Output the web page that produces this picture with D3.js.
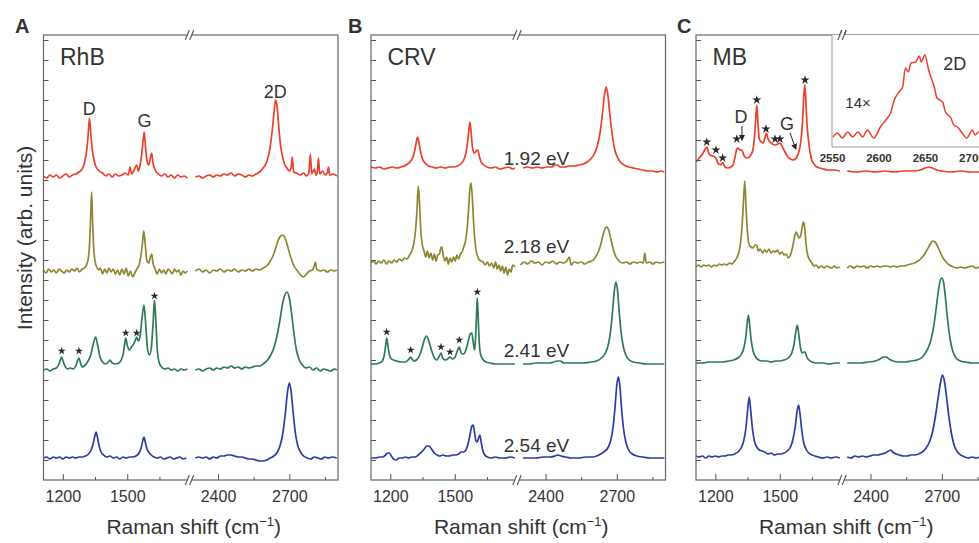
<!DOCTYPE html>
<html>
<head>
<meta charset="utf-8">
<script src="https://cdn.jsdelivr.net/npm/d3@7"></script>
<style>
  body { margin: 0; background: #fff; }
  text { font-family: "Liberation Sans", Arial, sans-serif; fill: #333; }
</style>
</head>
<body>
<script>
// ---- data (Raman shift in cm-1, intensity in arb. units above each baseline) ----
var panelNames = ["RhB", "CRV", "MB"];
var panelLetters = ["A", "B", "C"];
var energies = ["1.92 eV", "2.18 eV", "2.41 eV", "2.54 eV"];
var majorLow = [1200, 1500], minorLow = [1350, 1650];
var majorHigh = [2400, 2700], minorHigh = [2550, 2850];
var insetTicks = [2550, 2600, 2650, 2700];

var offsetsRhB = [30.3, 20.9, 11.0, 2.2];
var offsetsCRV = [31.2, 21.7, 11.6, 2.2];
var offsetsMB = [30.8, 21.3, 11.7, 2.3];

var rhbRed = [[1110,0.1],[1125,-0.1],[1140,0.2],[1155,0],[1170,0.2],[1185,-0.1],[1200,0.1],[1215,0.3],[1230,0],[1245,0.2],[1260,0.3],[1275,0.5],[1290,0.8],[1302,1.5],[1312,2.8],[1318,4.2],[1324,5.9],[1330,4.4],[1337,2.8],[1345,1.7],[1355,1.0],[1370,0.6],[1385,0.4],[1400,0.1],[1415,0.3],[1430,0],[1445,0.3],[1460,0.1],[1475,0.2],[1490,0.4],[1505,0.2],[1513,1.0],[1520,0.3],[1530,0.6],[1544,1.2],[1552,0.6],[1560,1.2],[1567,2.2],[1573,3.4],[1579,4.5],[1585,3.0],[1592,1.6],[1600,1.2],[1608,1.9],[1614,2.4],[1620,1.4],[1630,0.7],[1645,0.3],[1660,0.1],[1675,0.3],[1690,0],[1705,0.2],[1720,-0.1],[1735,0.2],[1750,0],[1765,0.1],[1780,-0.1],
  [2305,0],[2320,0.1],[2335,-0.1],[2350,0.1],[2365,0.2],[2380,0],[2395,0.2],[2410,0.1],[2425,0.3],[2440,0.2],[2455,0.4],[2470,0.1],[2485,0.3],[2500,0.2],[2515,0],[2530,0.2],[2545,0.1],[2560,0.3],[2575,0.5],[2590,0.9],[2605,1.5],[2618,2.8],[2628,4.6],[2636,6.5],[2642,7.7],[2648,7.2],[2655,5.2],[2663,3.2],[2672,2.0],[2680,1.3],[2690,0.9],[2700,0.6],[2708,1.0],[2713,2.0],[2718,0.5],[2730,0.4],[2745,0.2],[2760,0.4],[2772,0.1],[2782,0.4],[2789,2.3],[2794,0.3],[2805,0.8],[2812,0.2],[2818,0.5],[2823,1.9],[2828,0.3],[2840,0.6],[2850,0.2],[2860,0.4],[2865,1.0],[2870,0.2],[2885,0.3],[2900,0.1]];
var rhbOlive = [[1110,0.1],[1122,-0.2],[1134,0.2],[1146,-0.1],[1158,0.1],[1170,-0.2],[1182,0.2],[1194,0],[1206,-0.2],[1218,0.1],[1230,-0.1],[1242,0.2],[1254,0],[1266,0.3],[1278,-0.1],[1290,0.2],[1300,0.3],[1310,0.6],[1318,1.2],[1324,2.5],[1329,5.0],[1334,7.9],[1339,4.8],[1344,2.2],[1350,1.0],[1358,0.4],[1366,0.1],[1375,0.3],[1385,-0.3],[1395,0.2],[1405,-0.2],[1415,0.3],[1425,-0.1],[1435,0.2],[1445,-0.3],[1455,0.1],[1465,-0.4],[1475,0.2],[1485,-0.3],[1495,0.3],[1505,-0.5],[1515,0],[1525,-0.6],[1535,-0.2],[1545,0.2],[1555,0.6],[1563,1.4],[1570,2.6],[1577,4.0],[1584,2.6],[1592,1.0],[1600,0.8],[1608,1.4],[1614,1.7],[1620,0.8],[1630,0.2],[1640,-0.3],[1650,0.2],[1660,-0.2],[1670,0.1],[1680,-0.3],[1690,0.2],[1700,0],[1710,-0.3],[1720,0.2],[1730,-0.1],[1740,0.1],[1750,-0.4],[1760,0],[1770,-0.2],[1780,0],
  [2305,0],[2320,0.2],[2335,-0.1],[2350,0.1],[2365,-0.2],[2380,0.1],[2395,0],[2410,0.2],[2425,-0.1],[2440,0.1],[2455,0],[2470,0.2],[2485,-0.1],[2500,0.1],[2515,0],[2530,0.2],[2545,0],[2560,0.2],[2575,0.1],[2590,0.3],[2605,0.5],[2620,1.0],[2635,1.7],[2648,2.7],[2660,3.4],[2672,3.6],[2684,3.2],[2695,2.3],[2707,1.3],[2720,0.5],[2735,0],[2748,-0.4],[2760,-0.6],[2772,-0.3],[2785,0],[2797,0.1],[2805,0.5],[2810,0.9],[2815,0.2],[2830,0],[2845,0.1],[2860,-0.1],[2875,0.1],[2890,0],[2900,0.1]];
var rhbGreen = [[1110,0],[1125,0.1],[1140,-0.1],[1155,0.1],[1170,0.2],[1182,0.6],[1190,1.1],[1195,1.3],[1201,0.9],[1210,0.4],[1222,0.1],[1235,0.2],[1248,0.1],[1260,0.4],[1268,0.9],[1275,1.2],[1281,0.8],[1290,0.3],[1300,0.4],[1315,0.8],[1330,1.5],[1342,2.6],[1353,3.3],[1362,2.5],[1372,1.4],[1385,0.8],[1400,0.6],[1412,0.8],[1420,1.0],[1430,0.7],[1445,0.6],[1460,0.7],[1472,1.0],[1482,1.7],[1488,2.6],[1493,3.2],[1500,2.5],[1510,2.0],[1520,2.3],[1530,2.6],[1538,3.0],[1544,3.3],[1552,2.9],[1560,3.4],[1568,5.0],[1578,6.5],[1586,4.6],[1594,2.2],[1603,1.5],[1612,2.2],[1620,4.5],[1627,7.0],[1633,5.0],[1640,2.0],[1648,0.8],[1660,0.3],[1675,0.1],[1690,0.2],[1705,0],[1720,0.1],[1735,-0.1],[1750,0.1],[1765,0],[1780,0.1],
  [2305,0],[2320,0.1],[2335,-0.1],[2350,0.1],[2365,0.2],[2380,0],[2395,0.2],[2410,0.1],[2425,0.3],[2440,0.2],[2455,0.4],[2470,0.2],[2485,0.3],[2500,0.1],[2515,0.3],[2530,0.2],[2545,0.3],[2560,0.4],[2575,0.4],[2590,0.6],[2605,0.9],[2620,1.4],[2635,2.2],[2648,3.4],[2660,4.9],[2670,6.4],[2680,7.4],[2690,7.8],[2700,7.2],[2710,5.6],[2720,3.6],[2730,2.0],[2742,1.0],[2755,0.5],[2770,0.2],[2785,0.3],[2800,0],[2815,0.2],[2830,-0.1],[2845,0.1],[2860,0],[2875,-0.1],[2890,0.1],[2900,0]];
var rhbBlue = [[1110,0],[1125,0.1],[1140,-0.1],[1155,0.1],[1170,0],[1185,0.1],[1200,-0.1],[1215,0.1],[1230,0],[1245,0.1],[1260,0],[1275,0.1],[1290,0.1],[1305,0.2],[1320,0.4],[1332,0.8],[1342,1.5],[1349,2.2],[1355,2.6],[1361,2.1],[1368,1.3],[1378,0.6],[1390,0.3],[1405,0.1],[1420,0.2],[1435,0],[1450,0.1],[1465,-0.1],[1480,0.1],[1495,0],[1510,0.1],[1525,0.1],[1540,0.2],[1555,0.5],[1566,1.1],[1573,1.8],[1578,2.1],[1584,1.6],[1592,0.9],[1600,0.6],[1612,0.3],[1625,0.1],[1640,0],[1655,0.1],[1670,-0.1],[1685,0],[1700,0.1],[1715,-0.1],[1730,0],[1745,0.1],[1760,-0.1],[1775,0],
  [2305,0],[2320,0.1],[2335,0],[2350,0.1],[2365,-0.1],[2380,0.1],[2395,0],[2410,0.2],[2425,0.2],[2440,0.3],[2455,0.3],[2470,0.2],[2485,0.1],[2500,0.1],[2515,0],[2530,-0.1],[2545,-0.1],[2560,-0.2],[2575,-0.3],[2590,-0.3],[2605,-0.2],[2620,0],[2635,0.2],[2650,0.6],[2662,1.3],[2673,2.5],[2683,4.4],[2692,6.5],[2700,7.5],[2708,6.6],[2716,4.6],[2725,2.6],[2735,1.3],[2747,0.6],[2760,0.2],[2775,0],[2790,-0.1],[2805,0.1],[2820,0],[2835,-0.1],[2850,0.1],[2865,0],[2880,0.1],[2900,0]];

var crvRed = [[1110,0.1],[1130,0],[1150,0.1],[1170,-0.1],[1190,0],[1210,0.1],[1230,0],[1250,0.1],[1265,0.2],[1280,0.4],[1295,0.7],[1307,1.2],[1316,2.0],[1322,2.7],[1327,3.1],[1333,2.6],[1340,1.7],[1350,0.9],[1362,0.5],[1378,0.2],[1395,0.1],[1415,0],[1435,0.1],[1455,0],[1475,0.1],[1495,0.1],[1512,0.2],[1528,0.4],[1542,0.8],[1552,1.5],[1560,2.6],[1566,3.8],[1571,4.6],[1576,3.6],[1583,2.0],[1591,1.5],[1600,1.7],[1607,1.8],[1614,1.2],[1623,0.6],[1635,0.3],[1650,0.1],[1670,0],[1690,0.1],[1710,-0.1],[1730,0],[1750,0.1],[1770,-0.1],[1780,0],
  [2305,0],[2325,0.1],[2345,0],[2365,0.1],[2385,0],[2405,0.1],[2425,0.1],[2440,0.3],[2450,0.3],[2462,0.1],[2480,0.1],[2500,0.2],[2520,0.2],[2540,0.3],[2560,0.4],[2575,0.6],[2590,0.9],[2605,1.4],[2618,2.2],[2630,3.6],[2640,5.5],[2648,7.3],[2655,8.1],[2662,7.4],[2670,5.5],[2680,3.5],[2690,2.0],[2702,1.1],[2715,0.6],[2730,0.3],[2750,0.1],[2770,0],[2790,-0.1],[2810,-0.2],[2830,-0.3],[2850,-0.3],[2870,-0.4],[2885,-0.3],[2900,-0.4]];
var crvOlive = [[1110,0],[1122,0.2],[1134,-0.1],[1146,0.2],[1158,0],[1170,0.3],[1182,-0.1],[1194,0.2],[1206,0],[1218,0.3],[1230,0.1],[1242,0.4],[1254,0.2],[1266,0.5],[1278,0.4],[1290,0.8],[1300,1.2],[1310,2.0],[1318,3.4],[1324,5.2],[1330,7.7],[1336,6.0],[1342,3.2],[1349,1.8],[1357,1.2],[1365,0.6],[1373,1.2],[1381,0.5],[1389,1.0],[1397,0.3],[1405,0.9],[1413,0.2],[1421,0.8],[1429,0.9],[1435,1.5],[1440,1.6],[1446,0.8],[1454,0.2],[1462,0.6],[1470,-0.1],[1478,0.5],[1486,0.1],[1494,0.6],[1502,0.2],[1510,0.8],[1518,0.4],[1526,0.9],[1534,1.1],[1542,1.6],[1550,2.2],[1558,3.5],[1565,5.5],[1571,7.5],[1576,8.0],[1582,6.5],[1588,4.0],[1594,2.2],[1602,1.0],[1612,0.4],[1622,0.2],[1632,0.1],[1642,-0.2],[1652,0.1],[1662,-0.3],[1672,0],[1682,-0.5],[1690,0.1],[1698,-0.6],[1706,-0.2],[1714,-0.8],[1722,-0.3],[1730,-1.0],[1738,-0.4],[1746,-1.2],[1754,-0.6],[1762,-0.9],[1770,-0.2],[1780,-0.4],
  [2295,-0.2],[2310,0.1],[2325,-0.1],[2340,0.2],[2355,0],[2370,0.1],[2385,-0.2],[2400,0.1],[2415,0],[2430,0.2],[2445,-0.1],[2460,0.1],[2475,0],[2490,0.2],[2500,0.6],[2508,-0.2],[2520,0.1],[2535,0],[2550,0.1],[2565,-0.1],[2580,0.1],[2595,0.2],[2608,0.5],[2620,1.0],[2632,1.8],[2642,2.8],[2652,3.5],[2659,3.6],[2667,3.2],[2676,2.3],[2686,1.3],[2697,0.6],[2710,0.2],[2725,0],[2740,0.1],[2755,-0.1],[2770,0.1],[2785,0],[2800,0.1],[2812,0],[2818,1.0],[2824,0],[2838,0.1],[2852,-0.1],[2866,0.1],[2880,0],[2900,0.1]];
var crvGreen = [[1110,0],[1130,0],[1150,0.1],[1163,0.3],[1172,0.9],[1178,1.8],[1183,2.6],[1189,1.8],[1196,0.9],[1205,0.5],[1215,0.4],[1230,0.3],[1250,0.2],[1270,0.2],[1283,0.4],[1290,0.6],[1295,0.7],[1301,0.5],[1310,0.3],[1322,0.4],[1335,0.8],[1348,1.6],[1358,2.4],[1368,2.8],[1378,2.4],[1390,1.5],[1403,0.7],[1416,0.4],[1426,0.7],[1436,1.1],[1444,0.6],[1455,0.4],[1466,0.5],[1478,0.7],[1490,0.5],[1502,0.7],[1512,1.3],[1521,1.7],[1530,1.1],[1540,1.0],[1552,1.4],[1563,2.3],[1572,3.0],[1579,3.1],[1586,2.2],[1593,1.4],[1598,3.0],[1602,5.2],[1605,6.6],[1609,4.8],[1614,2.2],[1620,1.0],[1630,0.5],[1645,0.2],[1665,0.1],[1690,0],[1720,0],[1750,0],[1780,0],
  [2305,0],[2330,0],[2360,0.1],[2390,0.1],[2415,0.1],[2435,0.2],[2450,0.3],[2462,0.3],[2478,0.1],[2500,0.1],[2530,0.1],[2560,0.1],[2590,0.2],[2615,0.3],[2635,0.6],[2652,1.1],[2665,2.0],[2675,3.5],[2683,5.5],[2690,7.4],[2696,8.2],[2702,7.6],[2709,5.6],[2717,3.4],[2726,1.9],[2738,0.9],[2752,0.4],[2770,0.2],[2795,0.1],[2825,0],[2860,0],[2900,0]];
var crvBlue = [[1110,0],[1130,0],[1150,0.1],[1165,0.1],[1178,0.3],[1188,0.5],[1195,0.5],[1205,0.2],[1215,-0.1],[1228,-0.2],[1240,0],[1255,0],[1270,0.1],[1285,0],[1300,0.1],[1315,0.1],[1330,0.3],[1345,0.6],[1358,0.9],[1370,1.2],[1380,1.2],[1392,0.9],[1405,0.5],[1418,0.3],[1430,0.2],[1445,0.3],[1460,0.2],[1475,0.2],[1490,0.3],[1505,0.3],[1518,0.4],[1530,0.6],[1540,0.6],[1552,0.8],[1562,1.4],[1572,2.4],[1580,3.2],[1586,3.3],[1592,2.6],[1599,1.7],[1605,1.6],[1611,2.0],[1617,2.3],[1623,1.6],[1630,0.8],[1640,0.3],[1652,0.1],[1670,0],[1690,0.1],[1710,0],[1735,0],[1760,0.1],[1780,0],
  [2305,0],[2330,0],[2360,0],[2390,0.1],[2420,0.1],[2440,0.2],[2452,0.3],[2465,0.2],[2485,0.1],[2510,0],[2540,0],[2570,0.1],[2600,0.1],[2625,0.3],[2645,0.6],[2662,1.0],[2675,1.8],[2685,3.2],[2693,5.2],[2700,7.3],[2707,8.1],[2713,7.2],[2720,5.0],[2728,3.0],[2738,1.6],[2750,0.8],[2765,0.4],[2785,0.2],[2810,0.1],[2840,0],[2870,0],[2900,0]];

var mbRed = [[1110,1.0],[1125,1.4],[1143,1.9],[1153,2.3],[1160,2.5],[1168,2.0],[1175,1.7],[1188,1.6],[1198,1.5],[1205,1.3],[1212,0.9],[1225,0.7],[1234,0.95],[1245,0.5],[1259,0.4],[1272,0.5],[1282,0.7],[1292,1.5],[1300,2.3],[1306,2.4],[1315,2.2],[1324,2.2],[1331,1.8],[1338,1.5],[1352,1.4],[1365,1.7],[1375,2.2],[1382,3.4],[1388,5.2],[1393,6.7],[1399,4.8],[1404,3.4],[1410,3.1],[1422,2.9],[1431,3.4],[1438,3.9],[1446,3.3],[1455,3.0],[1466,2.8],[1478,2.7],[1490,2.8],[1501,2.9],[1508,2.7],[1515,2.4],[1527,1.9],[1539,1.5],[1550,1.3],[1562,1.2],[1572,1.3],[1580,1.5],[1590,2.1],[1599,3.2],[1606,5.0],[1612,7.6],[1617,8.7],[1622,7.0],[1627,4.8],[1633,3.3],[1641,2.0],[1649,1.2],[1660,0.8],[1672,0.5],[1688,0.4],[1702,0.3],[1725,0.2],[1748,0.2],[1780,0.1],
  [2302,0.1],[2340,0],[2380,0.1],[2420,0],[2460,0.1],[2500,0],[2540,0.1],[2580,0.1],[2610,0.2],[2630,0.4],[2645,0.5],[2660,0.4],[2680,0.2],[2700,0.1],[2740,0],[2780,0.1],[2820,0],[2860,0],[2900,0]];
var mbOlive = [[1110,0],[1122,0.2],[1134,0],[1146,0.2],[1158,0.1],[1170,0.2],[1182,0],[1194,0.2],[1206,0.1],[1218,0.3],[1230,0.2],[1242,0.3],[1254,0.2],[1266,0.4],[1278,0.3],[1290,0.6],[1300,0.9],[1310,1.5],[1318,2.5],[1325,4.2],[1331,6.5],[1337,8.6],[1343,6.0],[1350,3.4],[1358,2.2],[1366,2.0],[1375,1.9],[1385,2.2],[1393,2.2],[1400,1.6],[1410,1.8],[1420,1.4],[1430,1.7],[1440,1.5],[1450,1.8],[1460,1.4],[1470,1.6],[1480,1.5],[1490,1.7],[1500,1.3],[1510,1.5],[1520,1.2],[1530,1.3],[1540,0.9],[1550,1.2],[1560,2.0],[1568,2.9],[1576,3.5],[1583,3.2],[1590,2.9],[1598,3.2],[1604,3.9],[1610,4.5],[1616,4.0],[1622,2.4],[1630,1.2],[1640,0.7],[1650,0.4],[1660,0.1],[1670,0.2],[1682,-0.1],[1694,0.1],[1706,-0.1],[1718,0.1],[1730,0],[1742,-0.1],[1754,0.1],[1766,-0.1],[1780,0],
  [2302,-0.1],[2316,0.1],[2330,-0.1],[2344,0.1],[2358,0],[2372,0.1],[2386,-0.1],[2400,0.1],[2414,0],[2428,0.1],[2442,0],[2456,0.1],[2470,0.1],[2484,0],[2498,0.1],[2512,0],[2526,0.1],[2540,0.1],[2555,0.2],[2570,0.3],[2585,0.4],[2600,0.6],[2615,0.9],[2628,1.3],[2640,1.8],[2652,2.3],[2662,2.6],[2672,2.5],[2682,2.1],[2693,1.5],[2705,0.9],[2718,0.5],[2732,0.2],[2748,0],[2764,-0.1],[2780,0],[2796,-0.1],[2812,0],[2828,0.1],[2844,-0.1],[2860,0],[2876,0.1],[2900,0]];
var mbGreen = [[1110,0],[1140,0],[1170,0.1],[1200,0.1],[1230,0.1],[1260,0.2],[1285,0.3],[1305,0.5],[1322,0.9],[1334,1.6],[1342,2.6],[1348,3.9],[1354,4.8],[1360,3.8],[1367,2.3],[1376,1.2],[1388,0.6],[1402,0.3],[1420,0.2],[1440,0.2],[1460,0.1],[1480,0.2],[1500,0.2],[1520,0.3],[1540,0.5],[1556,1.0],[1566,1.8],[1574,3.0],[1582,3.8],[1589,2.8],[1597,1.5],[1605,1.0],[1612,1.1],[1618,1.1],[1626,0.6],[1636,0.3],[1650,0.1],[1670,0],[1700,0],[1730,-0.1],[1760,0],[1780,0],
  [2302,0],[2330,0],[2360,0],[2390,0.1],[2420,0.2],[2440,0.4],[2455,0.6],[2465,0.6],[2478,0.4],[2495,0.2],[2520,0.1],[2545,0.1],[2570,0.2],[2595,0.3],[2618,0.6],[2636,1.2],[2652,2.1],[2664,3.4],[2675,5.2],[2685,7.1],[2694,8.3],[2701,8.5],[2708,8.0],[2716,6.4],[2725,4.2],[2735,2.4],[2746,1.2],[2760,0.5],[2778,0.2],[2800,0.1],[2830,0],[2860,0],[2900,0]];
var mbBlue = [[1110,0.1],[1125,0],[1140,0.1],[1155,-0.1],[1170,0.1],[1185,0],[1200,0.1],[1215,0],[1230,0.1],[1245,0.1],[1260,0.2],[1275,0.2],[1290,0.3],[1305,0.5],[1320,0.9],[1332,1.6],[1342,2.8],[1350,4.6],[1358,6.0],[1365,4.6],[1373,2.8],[1382,1.6],[1393,1.0],[1405,0.7],[1418,0.6],[1430,0.5],[1445,0.3],[1460,0.4],[1475,0.2],[1490,0.3],[1505,0.3],[1520,0.4],[1535,0.6],[1550,1.0],[1562,1.8],[1572,3.0],[1581,4.6],[1588,5.2],[1595,4.2],[1603,2.6],[1612,1.4],[1622,0.8],[1635,0.4],[1650,0.2],[1665,0.1],[1680,0],[1700,-0.1],[1720,0],[1740,-0.1],[1760,0],[1780,-0.1],
  [2302,0],[2318,-0.1],[2334,0.1],[2350,0],[2366,0.1],[2382,0],[2398,0.1],[2414,0.2],[2430,0.2],[2446,0.3],[2462,0.4],[2476,0.6],[2485,0.7],[2494,0.5],[2508,0.3],[2522,0.2],[2538,0.1],[2554,0.1],[2570,0.2],[2586,0.2],[2602,0.3],[2618,0.5],[2634,0.9],[2648,1.5],[2662,2.6],[2674,4.2],[2685,6.0],[2695,7.5],[2703,8.2],[2711,7.6],[2720,6.0],[2730,4.0],[2741,2.3],[2753,1.1],[2766,0.5],[2780,0.2],[2796,0],[2812,-0.1],[2828,0],[2844,-0.1],[2860,0],[2880,0.1],[2900,0]];

// 14x magnified 2D band of MB at 1.92 eV (inset)
var mbInset2D = [[2551,1.0],[2556,1.4],[2561,0.9],[2567,1.5],[2572,1.0],[2578,1.5],[2583,1.0],[2588,1.7],[2595,0.9],[2602,2.0],[2608,2.7],[2613,3.4],[2617,4.7],[2622,5.5],[2626,6.0],[2629,7.9],[2632,7.5],[2635,8.4],[2640,8.5],[2644,9.1],[2646,8.5],[2650,9.2],[2654,7.7],[2660,6.0],[2663,4.9],[2669,4.5],[2672,3.5],[2678,2.9],[2681,2.2],[2685,2.0],[2690,1.4],[2695,0.9],[2701,1.7],[2704,1.2],[2708,1.5],[2715,1.3],[2720,1.1]];

// dye bands marked with asterisks (shift, height above baseline)
var starsRhB = [[1195,1.9],[1275,1.9],[1493,3.7],[1544,3.7],[1627,7.4]];
var starsCRV = [[1183,3.2],[1295,1.4],[1436,1.7],[1478,1.2],[1521,2.4],[1605,7.2]];
var starsMB = [[1160,3.0],[1203,2.2],[1234,1.4],[1300,3.3],[1393,7.2],[1436,4.3],[1478,3.3],[1501,3.3],[1618,9.2]];

// ---- layout ----
var svgWidth = 979, svgHeight = 543;
var panelLeft = [43.5, 371, 696];
var panelTop = 35, innerW = 294.5, innerH = 445, breakX = 146;
var colors = ["#ec3f2c", "#8d8733", "#2e7a56", "#2c3ba6"];
var plain = d3.format("d");

var svg = d3.select("body").append("svg")
  .attr("width", svgWidth)
  .attr("height", svgHeight);

svg.append("defs").append("marker")
  .attr("id", "arrow").attr("viewBox", "0 0 6 6")
  .attr("refX", 5).attr("refY", 3)
  .attr("markerWidth", 6).attr("markerHeight", 6)
  .attr("orient", "auto")
  .append("path").attr("d", "M0,0L6,3L0,6Z").attr("fill", "#222");

var xLow = d3.scaleLinear().domain([1110, 1790]).range([0, breakX]);
var xHigh = d3.scaleLinear().domain([2280, 2905]).range([breakX, innerW]);
var y = d3.scaleLinear().domain([0, 44.5]).range([innerH, 0]);
function xOf(s) { return s < 2000 ? xLow(s) : xHigh(s); }

var panels = [
  { spectra: [rhbRed, rhbOlive, rhbGreen, rhbBlue], offsets: offsetsRhB, stars: starsRhB, starRow: 2 },
  { spectra: [crvRed, crvOlive, crvGreen, crvBlue], offsets: offsetsCRV, stars: starsCRV, starRow: 2 },
  { spectra: [mbRed, mbOlive, mbGreen, mbBlue], offsets: offsetsMB, stars: starsMB, starRow: 0 }
];

function styleAxis(g, size) {
  g.select(".domain").remove();
  g.selectAll("line").attr("stroke", "#555");
  g.selectAll("text").attr("font-family", "Liberation Sans, Arial, sans-serif")
    .attr("font-size", size).attr("fill", "#333");
}

panels.forEach(function(p, i) {
  var g = svg.append("g").attr("transform", "translate(" + panelLeft[i] + "," + panelTop + ")");

  // spectra, drawn as two segments either side of the axis break
  p.spectra.forEach(function(spec, k) {
    var line = d3.line()
      .x(function(d) { return xOf(d[0]); })
      .y(function(d) { return y(p.offsets[k] + d[1]); })
      .curve(d3.curveMonotoneX);
    [spec.filter(function(d) { return d[0] < 2000; }),
     spec.filter(function(d) { return d[0] > 2000; })].forEach(function(seg) {
      g.append("path").attr("d", line(seg))
        .attr("fill", "none").attr("stroke", colors[k])
        .attr("stroke-width", 1.7).attr("stroke-linejoin", "round");
    });
  });

  // asterisks on dye bands
  g.selectAll(".star").data(p.stars).enter().append("path")
    .attr("d", d3.symbol().type(d3.symbolStar).size(i === 2 ? 26 : 20))
    .attr("transform", function(d) {
      return "translate(" + xOf(d[0]) + "," + y(p.offsets[p.starRow] + d[1]) + ")";
    })
    .attr("fill", "#2a2a2a");

  // frame
  g.append("rect").attr("width", innerW).attr("height", innerH)
    .attr("fill", "none").attr("stroke", "#666").attr("stroke-width", 1.2);

  // left ticks (inward)
  g.append("g")
    .call(d3.axisLeft(y).tickValues(d3.range(2, 44.5, 2)).tickSize(-5).tickFormat(""))
    .call(styleAxis, 16);

  // bottom axes
  var axG = g.append("g").attr("transform", "translate(0," + innerH + ")");
  axG.append("g").call(d3.axisBottom(xLow).tickValues(majorLow).tickFormat(plain).tickSize(-6).tickPadding(11)).call(styleAxis, 16);
  axG.append("g").call(d3.axisBottom(xHigh).tickValues(majorHigh).tickFormat(plain).tickSize(-6).tickPadding(11)).call(styleAxis, 16);
  axG.append("g").call(d3.axisBottom(xLow).tickValues(minorLow).tickSize(-3).tickFormat("")).call(styleAxis, 16);
  axG.append("g").call(d3.axisBottom(xHigh).tickValues(minorHigh).tickSize(-3).tickFormat("")).call(styleAxis, 16);

  // axis break marks
  [0, innerH].forEach(function(yy) {
    g.append("rect").attr("x", breakX - 2).attr("y", yy - 1.5).attr("width", 4).attr("height", 3).attr("fill", "#fff");
    [-2.2, 2.2].forEach(function(dx) {
      g.append("line")
        .attr("x1", breakX + dx - 2).attr("y1", yy + 5)
        .attr("x2", breakX + dx + 2).attr("y2", yy - 5)
        .attr("stroke", "#555").attr("stroke-width", 1.1);
    });
  });

  // titles
  g.append("text").attr("x", 16.5).attr("y", 30).attr("font-size", 23).text(panelNames[i]);
  svg.append("text").attr("x", [15, 348, 677][i]).attr("y", 33)
    .attr("font-size", 20).attr("font-weight", "bold").attr("fill", "#111").text(panelLetters[i]);

  var xl = g.append("text").attr("x", innerW / 2 + 3).attr("y", 499)
    .attr("text-anchor", "middle").attr("font-size", 21);
  xl.append("tspan").text("Raman shift (cm");
  xl.append("tspan").attr("font-size", 13).attr("dy", -8).text("\u22121");
  xl.append("tspan").attr("dy", 8).text(")");
});

// y label
svg.append("text")
  .attr("transform", "translate(32,238) rotate(-90)")
  .attr("text-anchor", "middle").attr("font-size", 21)
  .text("Intensity (arb. units)");

// band labels in panel A
var gA = svg.append("g").attr("transform", "translate(" + panelLeft[0] + "," + panelTop + ")");
[["D", 1323, 36.5], ["G", 1580, 35.3], ["2D", 2641, 38.2]].forEach(function(l) {
  gA.append("text").attr("x", xOf(l[1])).attr("y", y(l[2]))
    .attr("text-anchor", "middle").attr("font-size", 18).text(l[0]);
});

// excitation energies in panel B
var gB = svg.append("g").attr("transform", "translate(" + panelLeft[1] + "," + panelTop + ")");
var energyY = [31.5, 22.7, 12.3, 2.8];
energies.forEach(function(e, k) {
  gB.append("text").attr("x", xOf(2362)).attr("y", y(energyY[k]))
    .attr("text-anchor", "middle").attr("font-size", 19).text(e);
});

// panel C labels, arrows and inset
var gC = svg.append("g").attr("transform", "translate(" + panelLeft[2] + "," + panelTop + ")");
[["D", 1320, 35.7], ["G", 1534, 35.0]].forEach(function(l) {
  gC.append("text").attr("x", xOf(l[1])).attr("y", y(l[2]))
    .attr("text-anchor", "middle").attr("font-size", 18).text(l[0]);
});
[[1324, 35.4, 1324, 34.0], [1548, 34.7, 1575, 33.1]].forEach(function(a) {
  gC.append("line")
    .attr("x1", xOf(a[0])).attr("y1", y(a[1]))
    .attr("x2", xOf(a[2])).attr("y2", y(a[3]))
    .attr("stroke", "#222").attr("stroke-width", 1).attr("marker-end", "url(#arrow)");
});

var insetX = d3.scaleLinear().domain([2550, 2720]).range([0, 158]);
var insetY = d3.scaleLinear().domain([0, 11.2]).range([112, 0]);
var gI = gC.append("g").attr("transform", "translate(136,0)");
gI.append("rect").attr("width", 160).attr("height", 112).attr("fill", "#fff");
gI.append("path")
  .attr("d", d3.line().x(function(d) { return insetX(d[0]); }).y(function(d) { return insetY(d[1]); })
    .curve(d3.curveMonotoneX)(mbInset2D))
  .attr("fill", "none").attr("stroke", colors[0]).attr("stroke-width", 1.5);
gI.append("path").attr("d", "M0,0V112H160").attr("fill", "none").attr("stroke", "#999").attr("stroke-width", 1);
gI.append("g").attr("transform", "translate(0,112)")
  .call(d3.axisBottom(insetX).tickValues(insetTicks).tickFormat(plain).tickSize(0).tickPadding(7))
  .call(styleAxis, 11.5)
  .selectAll("text").attr("font-weight", "bold").attr("fill", "#555");
gI.append("text").attr("x", insetX(2578)).attr("y", insetY(3.9))
  .attr("text-anchor", "middle").attr("font-size", 15).text("14\u00d7");
gI.append("text").attr("x", insetX(2682)).attr("y", insetY(7.7))
  .attr("text-anchor", "middle").attr("font-size", 18).text("2D");
// redraw the top break mark over the inset
gC.append("rect").attr("x", breakX - 2).attr("y", -1.5).attr("width", 4).attr("height", 3).attr("fill", "#fff");
[-2.2, 2.2].forEach(function(dx) {
  gC.append("line").attr("x1", breakX + dx - 2).attr("y1", 5).attr("x2", breakX + dx + 2).attr("y2", -5)
    .attr("stroke", "#555").attr("stroke-width", 1.1);
});
</script>
</body>
</html>
